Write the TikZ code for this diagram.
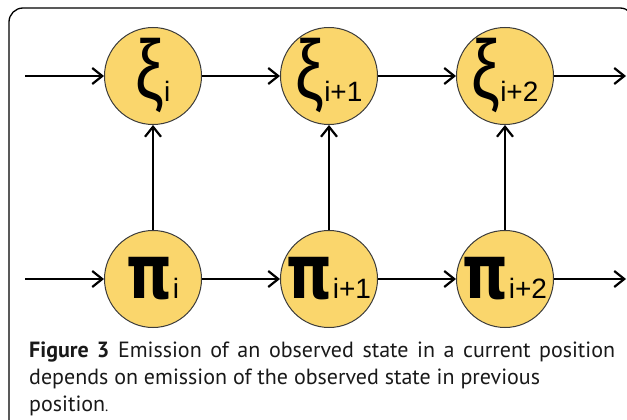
\documentclass[tikz,border=0pt]{standalone}
\usepackage{fontspec}
\setmainfont{PT Sans}
\newfontfamily\labelfont{Liberation Sans}
\newfontfamily\pifont{DejaVu Sans}
\usetikzlibrary{positioning,arrows.meta}
\definecolor{stateyellow}{RGB}{250,214,108}
\definecolor{stateline}{RGB}{60,60,60}
\definecolor{captiontext}{RGB}{25,25,25}

\newcommand{\xilabel}[1]{\makebox[0pt]{\scalebox{1}[1.3]{\labelfont\fontsize{64}{64}\selectfont ξ}\raisebox{-3pt}{\labelfont\fontsize{28}{28}\selectfont #1}}}
\newcommand{\pilabel}[1]{\makebox[0pt]{\scalebox{1}[1.3]{\pifont\bfseries\fontsize{58}{58}\selectfont π}{\labelfont\fontsize{28}{28}\selectfont #1}}}

\begin{document}
\begin{tikzpicture}[
  x=1pt, y=-1pt,
  node distance=78pt,
  state/.style={circle,draw=stateline,line width=1pt,fill=stateyellow,
                minimum size=97pt,inner sep=0pt},
  flow/.style={-{Straight Barb[length=10pt,width=16pt]},line width=2.2pt}
]
  \useasboundingbox (0,0) rectangle (627,420);
  \draw[line width=1.3pt,rounded corners=14pt] (9,8) rectangle (634,440);

  % observed states
  \node[state] (xi0) at (153,76) {\xilabel{i}};
  \node[state, right=of xi0] (xi1) {\xilabel{i+1}};
  \node[state, right=of xi1] (xi2) {\xilabel{i+2}};

  % hidden states
  \node[state] (pi0) at (153,279) {\pilabel{i}};
  \node[state, right=of pi0] (pi1) {\pilabel{i+1}};
  \node[state, right=of pi1] (pi2) {\pilabel{i+2}};

  \coordinate (xiin) at (25,76);
  \coordinate (xiout) at (626,76);
  \coordinate (piin) at (25,279);
  \coordinate (piout) at (626,279);

  \draw[flow] (xiin) -- (xi0);
  \draw[flow] (xi0) -- (xi1);
  \draw[flow] (xi1) -- (xi2);
  \draw[flow] (xi2) -- (xiout);

  \draw[flow] (piin) -- (pi0);
  \draw[flow] (pi0) -- (pi1);
  \draw[flow] (pi1) -- (pi2);
  \draw[flow] (pi2) -- (piout);

  \draw[flow] (pi0) -- (xi0);
  \draw[flow] (pi1) -- (xi1);
  \draw[flow] (pi2) -- (xi2);

  \node[anchor=base west, align=left, inner sep=0pt, text=captiontext,
        font=\fontsize{22}{27}\selectfont] (caption) at (29,411)
    {\makebox[586pt][s]{\textbf{Figure 3} Emission of an observed state in a current position}\\
     depends on emission of the observed state in previous\\
     position{\fontsize{15}{15}\selectfont .}};
\end{tikzpicture}
\end{document}
